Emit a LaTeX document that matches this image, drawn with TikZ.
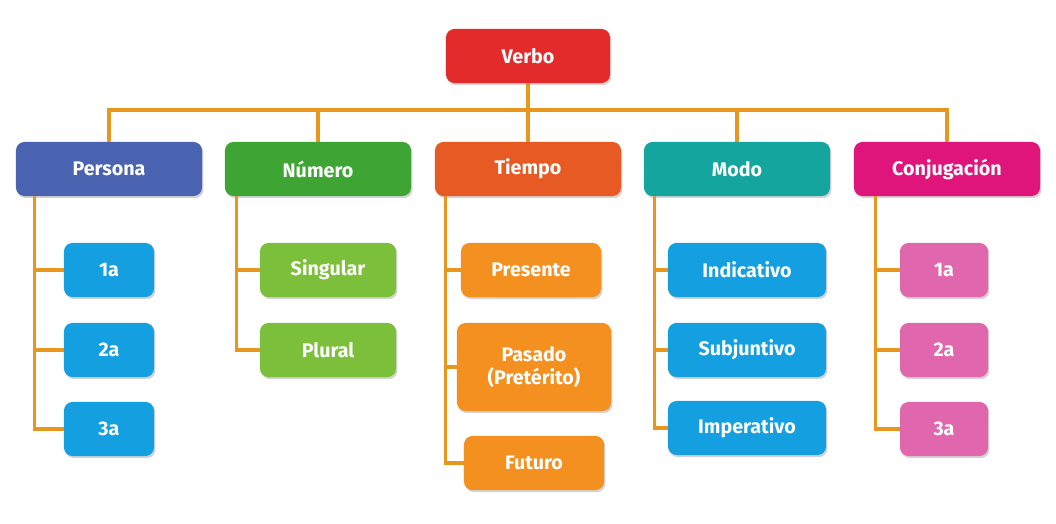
\documentclass[tikz,border=0pt]{standalone}
\usepackage{fontspec}
\setmainfont{Fira Sans}
\usepackage{tikz}
\usetikzlibrary{calc}
\usetikzlibrary{shadows}
\usetikzlibrary{positioning}
\definecolor{cverbo}{HTML}{E32B2B}
\definecolor{cpers}{HTML}{4A63B0}
\definecolor{cnum}{HTML}{3EA535}
\definecolor{ctiem}{HTML}{E85A24}
\definecolor{cmodo}{HTML}{13A59E}
\definecolor{cconj}{HTML}{E0157B}
\definecolor{cblue}{HTML}{139FE0}
\definecolor{cgreen}{HTML}{7CBF3A}
\definecolor{corange}{HTML}{F39020}
\definecolor{cpink}{HTML}{E067AE}
\definecolor{cline}{HTML}{E8961E}
\tikzset{box/.style={rounded corners=6pt,text=white,font=\bfseries\fontsize{14}{16}\selectfont,
    align=center,inner sep=2pt,drop shadow={opacity=0.35,shadow xshift=1pt,shadow yshift=-1.5pt}}}
\tikzset{head/.style={box,minimum width=4.65cm,minimum height=1.35cm}}
\tikzset{leaf/.style={box,minimum height=1.35cm}}
\tikzset{link/.style={draw=cline,line width=2.2pt}}

\begin{document}
\begin{tikzpicture}[x=0.025cm,y=-0.025cm]
        \useasboundingbox (0,0) rectangle (1056,524);

        \node[head,fill=cverbo,minimum width=4.1cm] (verbo) at (528,56) {Verbo};
        \node[head,fill=cpers] (pers) at (109,169) {Persona};
        \node[head,fill=cnum] (num) at (318,169) {Número};
        \node[head,fill=ctiem] (tiem) at (528,169) {Tiempo};
        \node[head,fill=cmodo] (modo) at (737,169) {Modo};
        \node[head,fill=cconj] (conj) at (947,169) {Conjugación};
        \coordinate (bus) at (528,110);

        \node[leaf,fill=cblue,minimum width=2.25cm] (p1) at (109,270) {1a};
        \node[leaf,fill=cblue,minimum width=2.25cm] (p2) at (109,350) {2a};
        \node[leaf,fill=cblue,minimum width=2.25cm] (p3) at (109,429) {3a};
        \node[leaf,fill=cgreen,minimum width=3.4cm] (n1) at (328,270) {Singular};
        \node[leaf,fill=cgreen,minimum width=3.4cm] (n2) at (328,350) {Plural};
        \node[leaf,fill=corange,minimum width=3.5cm] (t1) at (531,270) {Presente};
        \node[leaf,fill=corange,minimum width=3.85cm,minimum height=2.2cm] (t2) at (534,367) {Pasado\\(Pretérito)};
        \node[leaf,fill=corange,minimum width=3.5cm] (t3) at (534,463) {Futuro};
        \node[leaf,fill=cblue,minimum width=3.95cm] (m1) at (747,270) {Indicativo};
        \node[leaf,fill=cblue,minimum width=3.95cm] (m2) at (747,350) {Subjuntivo};
        \node[leaf,fill=cblue,minimum width=3.95cm] (m3) at (747,428) {Imperativo};
        \node[leaf,fill=cpink,minimum width=2.2cm] (c1) at (944,270) {1a};
        \node[leaf,fill=cpink,minimum width=2.2cm] (c2) at (944,350) {2a};
        \node[leaf,fill=cpink,minimum width=2.2cm] (c3) at (944,429) {3a};

        \draw[link] (verbo) -- (bus);
        \draw[link] (pers.north) -- (pers.north |- bus) -- (conj.north |- bus) -- (conj.north);
        \foreach \n in {num,tiem,modo}
            \draw[link] (\n.north) -- (\n.north |- bus);

        \draw[link] ($(pers.south west)+(19,0)$) coordinate (ps) |- (p3.west);
        \draw[link] (p1.west) -- (p1.west -| ps);
        \draw[link] (p2.west) -- (p2.west -| ps);
        \draw[link] ($(num.south west)+(12,0)$) coordinate (ns) |- (n2.west);
        \draw[link] (n1.west) -- (n1.west -| ns);
        \draw[link] ($(tiem.south west)+(11,0)$) coordinate (ts) |- (t3.west);
        \draw[link] (t1.west) -- (t1.west -| ts);
        \draw[link] (t2.west) -- (t2.west -| ts);
        \draw[link] ($(modo.south west)+(11,0)$) coordinate (ms) |- (m3.west);
        \draw[link] (m1.west) -- (m1.west -| ms);
        \draw[link] (m2.west) -- (m2.west -| ms);
        \draw[link] ($(conj.south west)+(22,0)$) coordinate (cs) |- (c3.west);
        \draw[link] (c1.west) -- (c1.west -| cs);
        \draw[link] (c2.west) -- (c2.west -| cs);
    \end{tikzpicture}
\end{document}
